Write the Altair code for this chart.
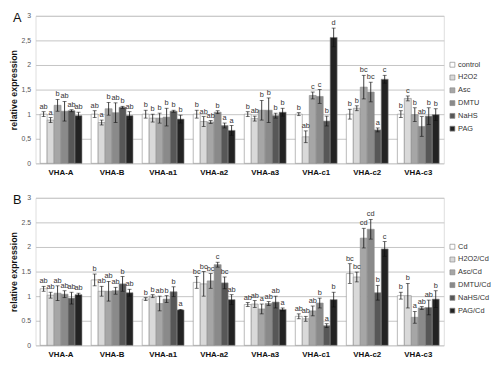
import altair as alt
import pandas as pd

genes = ["VHA-A", "VHA-B", "VHA-a1", "VHA-a2", "VHA-a3", "VHA-c1", "VHA-c2", "VHA-c3"]

# ---- Panel A ----
treat_a = ["control", "H2O2", "Asc", "DMTU", "NaHS", "PAG"]
val_a = {
    "control": [1.0, 1.0, 1.0, 1.0, 1.0, 1.0, 1.0, 1.0],
    "H2O2": [0.88, 0.83, 0.92, 0.85, 0.91, 0.54, 1.12, 1.32],
    "Asc": [1.18, 1.11, 0.92, 0.84, 1.08, 1.38, 1.55, 0.99],
    "DMTU": [1.06, 1.03, 0.94, 1.04, 1.08, 1.36, 1.45, 0.75],
    "NaHS": [1.07, 1.14, 1.06, 0.77, 0.97, 0.86, 0.68, 0.96],
    "PAG": [0.97, 0.97, 0.90, 0.67, 1.04, 2.56, 1.71, 0.99],
}
err_a = {
    "control": [0.05, 0.07, 0.08, 0.08, 0.05, 0.03, 0.10, 0.07],
    "H2O2": [0.05, 0.05, 0.08, 0.10, 0.05, 0.12, 0.05, 0.05],
    "Asc": [0.12, 0.13, 0.10, 0.03, 0.20, 0.07, 0.24, 0.14],
    "DMTU": [0.20, 0.20, 0.18, 0.03, 0.25, 0.14, 0.20, 0.20],
    "NaHS": [0.02, 0.02, 0.02, 0.05, 0.05, 0.10, 0.04, 0.17],
    "PAG": [0.07, 0.08, 0.08, 0.10, 0.08, 0.19, 0.08, 0.12],
}
let_a = {
    "control": ["ab", "ab", "b", "b", "b", "b", "b", "b"],
    "H2O2": ["a", "a", "b", "ab", "ab", "ab", "b", "c"],
    "Asc": ["b", "b", "b", "ab", "b", "c", "bc", "b"],
    "DMTU": ["ab", "ab", "b", "b", "b", "c", "bc", "ab"],
    "NaHS": ["ab", "b", "b", "a", "b", "b", "a", "b"],
    "PAG": ["ab", "ab", "b", "a", "b", "d", "c", "b"],
}

# ---- Panel B ----
treat_b = ["Cd", "H2O2/Cd", "Asc/Cd", "DMTU/Cd", "NaHS/Cd", "PAG/Cd"]
val_b = {
    "Cd": [1.15, 1.33, 0.94, 1.28, 0.83, 0.59, 1.46, 1.01],
    "H2O2/Cd": [1.02, 1.10, 1.00, 1.25, 0.84, 0.54, 1.39, 1.01],
    "Asc/Cd": [1.06, 1.10, 0.85, 1.31, 0.74, 0.70, 2.18, 0.57],
    "DMTU/Cd": [1.04, 1.11, 0.94, 1.64, 0.85, 0.86, 2.36, 0.76],
    "NaHS/Cd": [0.96, 1.25, 1.09, 1.27, 0.88, 0.40, 1.07, 0.77],
    "PAG/Cd": [1.03, 1.07, 0.72, 0.93, 0.73, 0.93, 1.96, 0.94],
}
err_b = {
    "Cd": [0.05, 0.12, 0.03, 0.12, 0.04, 0.05, 0.20, 0.07],
    "H2O2/Cd": [0.06, 0.10, 0.03, 0.25, 0.07, 0.05, 0.10, 0.25],
    "Asc/Cd": [0.15, 0.20, 0.15, 0.15, 0.10, 0.10, 0.20, 0.12],
    "DMTU/Cd": [0.07, 0.07, 0.07, 0.05, 0.04, 0.10, 0.20, 0.03],
    "NaHS/Cd": [0.12, 0.15, 0.10, 0.12, 0.12, 0.04, 0.15, 0.15],
    "PAG/Cd": [0.03, 0.07, 0.01, 0.10, 0.03, 0.15, 0.15, 0.17],
}
let_b = {
    "Cd": ["ab", "b", "b", "bc", "ab", "ab", "bc", "b"],
    "H2O2/Cd": ["ab", "ab", "b", "bc", "ab", "ab", "bc", "b"],
    "Asc/Cd": ["ab", "ab", "ab", "bc", "a", "ab", "cd", "a"],
    "DMTU/Cd": ["ab", "ab", "b", "c", "ab", "b", "cd", "ab"],
    "NaHS/Cd": ["ab", "b", "b", "bc", "ab", "a", "b", "ab"],
    "PAG/Cd": ["ab", "ab", "a", "ab", "a", "b", "c", "b"],
}

colors = ["#ffffff", "#d9d9d9", "#a6a6a6", "#8a8a8a", "#575757", "#232323"]
FONT = "Liberation Sans"
PW = 415
PH = 150


def build_df(treats, vals, errs, lets):
    rows = []
    for t in treats:
        for i, g in enumerate(genes):
            v = vals[t][i]
            e = errs[t][i]
            rows.append({"gene": g, "treat": t, "value": v, "lo": v - e,
                         "hi": v + e, "letter": lets[t][i]})
    return pd.DataFrame(rows)


def panel(df, treats, tag, comma):
    x = alt.X("gene:N", sort=genes,
              scale=alt.Scale(paddingInner=0.18, paddingOuter=0.09),
              axis=alt.Axis(title=None, labelAngle=0, labelFontWeight="bold",
                            labelFontSize=8, labelColor="#111", ticks=False,
                            domain=False, labelPadding=5, labelFont=FONT))
    xo = alt.XOffset("treat:N", sort=treats,
                     scale=alt.Scale(paddingInner=0, paddingOuter=0))
    axis_kw = dict(tickCount=6, format=".1~f", title="relative expression",
                   titleFontSize=9, titleFontWeight="bold", titleColor="#111",
                   titleFont=FONT, labelFont=FONT, labelOverlap=False,
                   labelFontSize=7, labelColor="#555", grid=True,
                   gridColor="#c4c4c4", domain=False, ticks=False,
                   labelPadding=5, titlePadding=3)
    if comma:
        axis_kw["labelExpr"] = "replace(datum.label, '.', ',')"
    y = alt.Y("value:Q", scale=alt.Scale(domain=[0, 3], nice=False),
              axis=alt.Axis(**axis_kw))
    color = alt.Color("treat:N", sort=treats,
                      scale=alt.Scale(domain=treats, range=colors),
                      legend=alt.Legend(title=None, orient="none", legendX=PW + 5,
                                        legendY=46, symbolType="square",
                                        symbolSize=25, symbolStrokeColor="#8a8a8a",
                                        symbolStrokeWidth=0.7, labelFontSize=7.5,
                                        labelColor="#333", labelFont=FONT,
                                        rowPadding=4, labelOffset=2))
    base = alt.Chart(df)
    bars = base.mark_bar(stroke="#8a8a8a", strokeWidth=0.6).encode(
        x=x, xOffset=xo, y=y, color=color)
    rule = base.mark_rule(color="#111", strokeWidth=0.8).encode(
        x=x, xOffset=xo, y="lo:Q", y2="hi:Q")
    cap_lo = base.mark_tick(color="#111", thickness=0.8, size=4).encode(
        x=x, xOffset=xo, y="lo:Q")
    cap_hi = base.mark_tick(color="#111", thickness=0.8, size=4).encode(
        x=x, xOffset=xo, y="hi:Q")
    txt = base.mark_text(fontSize=7.5, color="#333", baseline="bottom", dy=-1,
                         font=FONT).encode(
        x=x, xOffset=xo, y="hi:Q", text="letter:N")
    lab = alt.Chart(pd.DataFrame({"t": [tag]})).mark_text(
        fontSize=13, align="left", baseline="top", font=FONT, color="#111").encode(
        x=alt.value(-23), y=alt.value(-4), text="t:N")
    return alt.layer(bars, rule, cap_lo, cap_hi, txt, lab).properties(
        width=PW, height=PH)


df_a = build_df(treat_a, val_a, err_a, let_a)
df_b = build_df(treat_b, val_b, err_b, let_b)

chart = alt.vconcat(panel(df_a, treat_a, "A", True),
                    panel(df_b, treat_b, "B", False),
                    spacing=16).resolve_scale(
    color="independent", x="independent", y="independent", xOffset="independent"
).properties(padding=0).configure_view(stroke="#9a9a9a", strokeWidth=1).configure(
    font=FONT)

chart.save("out.html", embed_options={"renderer": "svg", "actions": False})
